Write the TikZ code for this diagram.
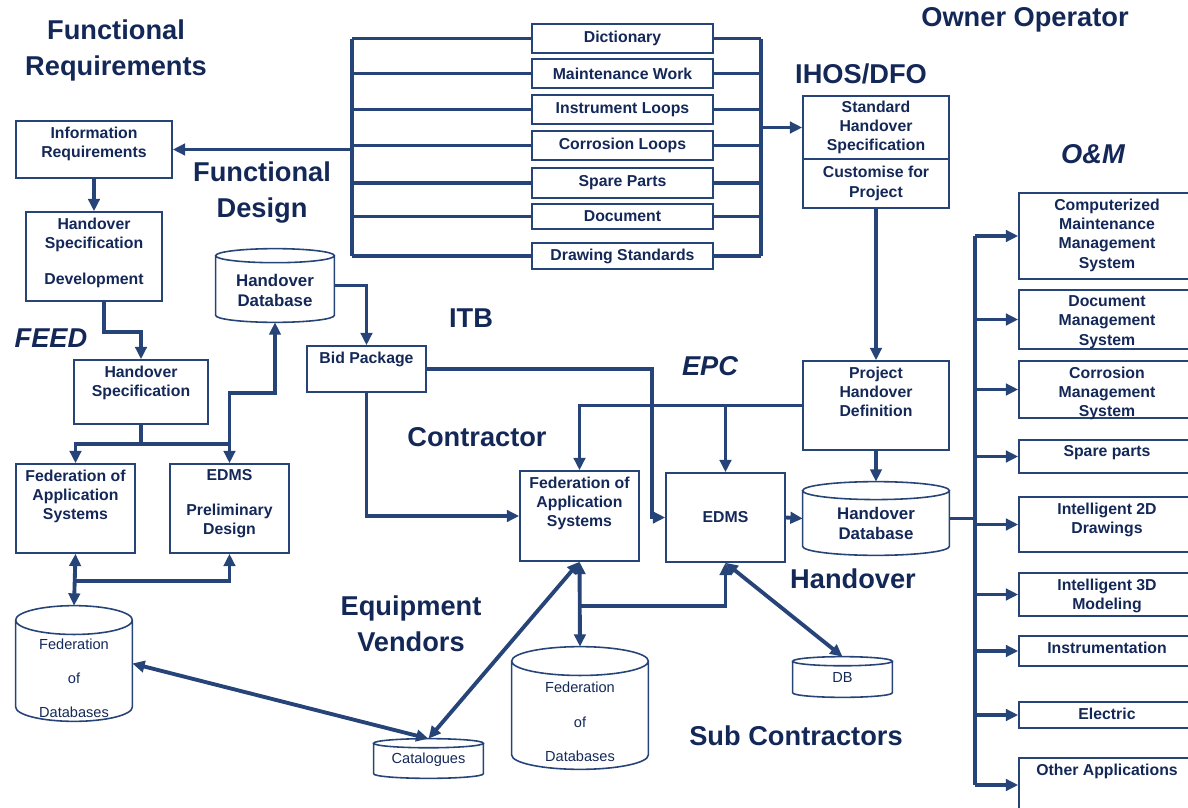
\documentclass[tikz,border=0pt]{standalone}
\usepackage{fontspec}
\setmainfont{Liberation Sans}
\usetikzlibrary{arrows.meta,calc,fit}

\definecolor{linec}{RGB}{38,68,120}
\definecolor{txtc}{RGB}{20,40,88}
\newcommand{\boxfont}{\fontsize{9}{11}\selectfont\bfseries}
\newcommand{\bigfont}{\fontsize{15.5}{20.5}\selectfont\bfseries}
\newcommand{\dbfont}{\fontsize{8.3}{10}\selectfont}
\newcommand{\hdbfont}{\fontsize{9.6}{11.5}\selectfont\bfseries}
% outline of a database drum round a fitted node: #1 node, #2 radius of its ends
\newcommand{\dbcyl}[2]{%
  \draw[linec, line width=0.9pt] let \p1=(#1.north west), \p2=(#1.south east), \n1={(\x2-\x1)/2} in
    (\x1,\y1-#2) -- (\x1,\y2+#2) arc[start angle=180, end angle=360, x radius=\n1, y radius=#2]
    -- (\x2,\y1-#2) (\x1+\n1,\y1-#2) ellipse[x radius=\n1, y radius=#2];}

\tikzset{
  box/.style={draw=linec, line width=0.9pt, inner sep=0pt},
  dbnode/.style={inner sep=0pt},
  toptext/.style={label={[font=\boxfont, text=txtc, align=center, anchor=north, inner sep=3.5pt]north:#1}},
  midtext/.style={label={[font=\boxfont, text=txtc, align=center]center:#1}},
  dbtext/.style 2 args={label={[font=\dbfont, text=txtc, align=center, yshift=#2]center:#1}},
  hdbtext/.style={label={[font=\hdbfont, text=txtc, align=center, yshift=-0.1cm]center:#1}},
  lbl/.style={font=\bigfont, text=txtc, align=center},
  conn/.style={draw=linec, line width=2.2pt},
  arr/.style={conn, -{Triangle[length=7pt,width=6.5pt]}},
  dbl/.style={conn, {Triangle[length=7pt,width=6.5pt]}-{Triangle[length=7pt,width=6.5pt]}},
}

\begin{document}
\begin{tikzpicture}[x=0.02cm, y=-0.02cm]
  \useasboundingbox (0,0) rectangle (1188,808);

  % phase labels
  \node[lbl] at (116,50) {Functional\\Requirements};
  \node[lbl] at (262,193) {Functional\\Design};
  \node[lbl] at (51,338) {\itshape FEED};
  \node[lbl] at (471,318) {ITB};
  \node[lbl] at (710,366) {\itshape EPC};
  \node[lbl] at (477,437) {Contractor};
  \node[lbl] at (411,624) {Equipment\\Vendors};
  \node[lbl] at (853,579) {Handover};
  \node[lbl] at (796,736) {Sub Contractors};
  \node[lbl] at (861,74) {IHOS/DFO};
  \node[lbl] at (1025,20) {Owner Operator};
  \node[lbl] at (1093,154) {\itshape O\&M};

  % functional design items
  \coordinate (lbus) at (352,0);
  \coordinate (rbus) at (761,0);
  \foreach \name/\ya/\yb/\txt in {dict/24/53/Dictionary, maint/59/88/Maintenance Work,
      instr/95/124/Instrument Loops, corr/131/160/Corrosion Loops, spare/168/198/Spare Parts,
      doc/204/229/Document, drw/243/269/Drawing Standards}{
    \node[box, fit={(532,\ya) (713,\yb)}, midtext={\txt}] (\name) {};
    \draw[conn] (\name.west) -- (\name.west -| lbus) (\name.east) -- (\name.east -| rbus);
  }
  \draw[conn] (dict.west -| lbus) -- (drw.west -| lbus);
  \draw[conn] (dict.east -| rbus) -- (drw.east -| rbus);

  % FEED side
  \node[box, fit={(16,121) (172,178)}, toptext={Information\\Requirements}] (infreq) {};
  \node[box, fit={(26,212) (162,301)}, toptext={Handover\\Specification\\[9.5pt]Development}] (hsd) {};
  \node[box, fit={(74,360) (208,424)}, toptext={Handover\\Specification}] (hs) {};
  \node[box, fit={(16,464) (135,553)}, toptext={Federation of\\Application\\Systems}] (fasl) {};
  \node[box, fit={(170,464) (289,553)}, toptext={EDMS\\[8.5pt]Preliminary\\Design}] (edmsp) {};
  \node[dbnode, fit={(216,249) (334,322)}, hdbtext={Handover\\Database}] (hdbl) {};
  \node[dbnode, fit={(16,606) (132,721)}, dbtext={Federation\\[9.5pt]of\\[9.5pt]Databases}{-0.3cm}] (fdbl) {};

  % owner side
  \node[box, fit={(803,96) (949,159)}, midtext={Standard\\Handover\\Specification}] (shs) {};
  \node[box, fit={(803,159) (949,208)}, midtext={Customise for\\Project}] (cust) {};
  \node[box, fit={(803,361) (949,450)}, toptext={Project\\Handover\\Definition}] (phd) {};
  \node[dbnode, fit={(803,482) (949,555)}, hdbtext={Handover\\Database}] (hdbr) {};

  % contractor side
  \node[box, fit={(307,346) (426,392)}, toptext={Bid Package}] (bid) {};
  \node[box, fit={(520,471) (639,561)}, toptext={Federation of\\Application\\Systems}] (fasm) {};
  \node[box, fit={(666,473) (785,562)}, midtext={EDMS}] (edms) {};
  \node[dbnode, fit={(512,647) (648,769)}, dbtext={Federation\\[9.5pt]of\\[9.5pt]Databases}{-0.28cm}] (fdbm) {};
  \node[dbnode, fit={(374,739) (483,778)}, dbtext={Catalogues}{-0.03cm}] (cat) {};
  \node[dbnode, fit={(793,657) (892,697)}, dbtext={DB}{0cm}] (sdb) {};

  % drums
  \dbcyl{hdbl}{4pt}
  \dbcyl{hdbr}{5.1pt}
  \dbcyl{fdbl}{8.2pt}
  \dbcyl{fdbm}{8.2pt}
  \dbcyl{cat}{2.6pt}
  \dbcyl{sdb}{2.6pt}

  % O&M applications
  \coordinate (obus) at (975,0);
  \foreach \name/\ya/\yb/\txt in {cmms/193/279/Computerized\\Maintenance\\Management\\System,
      dms/290/349/Document\\Management\\System, cms/361/418/Corrosion\\Management\\System,
      spp/440/473/Spare parts, itd/497/552/Intelligent 2D\\Drawings, ithd/573/616/Intelligent 3D\\Modeling,
      inst/636/666/Instrumentation, elec/702/728/Electric, other/758/812/Other Applications}{
    \node[box, fit={(1019,\ya) (1195,\yb)}, toptext={\txt}] (\name) {};
    \draw[arr] (\name.west -| obus) -- (\name.west);
  }
  \draw[conn] (cmms.west -| obus) -- (other.west -| obus);
  \draw[conn] (hdbr.east) -- (hdbr.east -| obus);

  % connectors
  \draw[arr] (infreq.east -| lbus) -- (infreq.east);
  \draw[arr] (shs.west -| rbus) -- (shs.west);
  \draw[arr] (infreq.south) -- (hsd.north);
  \draw[arr] (hsd.south) ++(10,0) -- ++(0,30) -| (hs.north);
  \draw[arr] (hs.south) -- ++(0,19) -| (fasl.north);
  \draw[arr] (hs.south) -- ++(0,19) -| (edmsp.north);
  \draw[arr] (edmsp.north) ++(0,-21) -- ++(0,-49) -| (hdbl.south);
  \draw[arr] (hdbl.east) -| (bid.north);
  \draw[dbl] (fasl.south) -- (fdbl.north);
  \draw[arr] (fasl.south) ++(0,27) -| (edmsp.south);
  \draw[dbl] (fdbl.east) -- (cat.north);
  \draw[dbl] (cat.north) -- (fasm.south);
  \draw[arr] (cust.south) -- (phd.north);
  \draw[arr] (phd.south) -- (hdbr.north);
  \draw[arr] (phd.west) -| (fasm.north);
  \draw[arr] (edms.north |- phd.west) -- (edms.north);
  \draw[arr] (bid.east) -- ++(225,0) |- (edms.west);
  \draw[arr] (bid.south) |- (fasm.west);
  \draw[arr] (edms.east) -- (hdbr.west);
  \draw[dbl] (fasm.south) -- (fdbm.north);
  \draw[arr] (fasm.south) ++(0,44) -| (edms.south);
  \draw[dbl] (edms.south) -- (sdb.north);
\end{tikzpicture}
\end{document}
